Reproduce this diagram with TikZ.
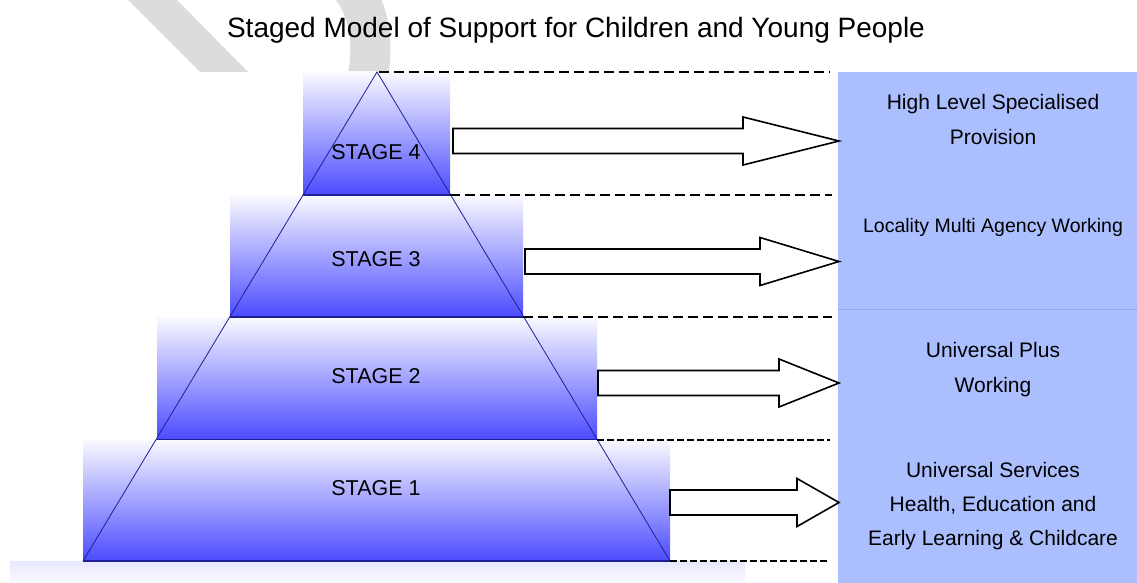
\documentclass[tikz,border=0pt]{standalone}
\usepackage{fontspec}
\setmainfont{Liberation Sans}
\usepackage{tikz}
\usetikzlibrary{calc}
\definecolor{stagetop}{HTML}{FAFAFF}
\definecolor{stageblue}{HTML}{4B4BFF}
\definecolor{edgeblue}{HTML}{1E1E96}
\definecolor{panelblue}{HTML}{ABBFFF}
\definecolor{panelline}{HTML}{8DA9F5}
\definecolor{wmgray}{HTML}{DCDCDC}
\newcommand{\stagebox}[4]{ \shade[top color=stagetop, bottom color=stageblue] ( #1 , #2 ) rectangle ( #3 , #4 );}
\newcommand{\blockarrow}[3]{ \draw[arrowline] ( #1 , #2-12.5 ) -- ( #3 , #2-12.5 ) -- ( #3 , #2-24 ) -- ( 839 , #2 ) -- ( #3 , #2+24 ) -- ( #3 , #2+12.5 ) -- ( #1 , #2+12.5 ) -- cycle;}
\newcommand{\paneltext}[4]{\node[paneltxt] ( #1 ) at ( 993 , #2 ) {\fontsize{#3}{#3}\selectfont #4};}

\begin{document}
\begin{tikzpicture}[x=1pt,y=-1pt,
    edge/.style={draw=edgeblue, line width=0.8pt},
    levelline/.style={draw=edgeblue, line width=1.2pt},
    bigdash/.style={line width=2.3pt, dash pattern=on 10pt off 5pt},
    smalldash/.style={line width=1.3pt, dash pattern=on 7pt off 3pt},
    arrowline/.style={draw=black, fill=white, line width=1.6pt, line join=miter},
    stagetxt/.style={anchor=base, inner sep=0pt, font=\fontsize{21.5}{21.5}\selectfont},
    paneltxt/.style={anchor=base, inner sep=0pt}]
        \useasboundingbox (0,0) rectangle (1137,583);
        % watermark
        \begin{scope}
            \clip (0,0) rectangle (1137,72);
            \fill[wmgray] (128,0) -- (177,0) -- (248,72) -- (200,72) -- cycle;
            \draw[wmgray, line width=40pt] (352,-12) .. controls (372,15) and (374,50) .. (366,85);
        \end{scope}
        % title
        \node[anchor=base, inner sep=0pt, font=\fontsize{28}{28}\selectfont] (title) at (576,38) {Staged Model of Support for Children and Young People};
        % panel
        \fill[panelblue] (838,72) rectangle (1137,583);
        \draw[panelline, line width=1.6pt] (838,309.5) -- (1137,309.5);
        % stages
        \stagebox{303}{72}{450}{195}
        \stagebox{230}{195}{523}{317}
        \stagebox{157}{317}{597}{439.5}
        \stagebox{83}{439.5}{670}{561}
        \shade[top color=stageblue!13, bottom color=stageblue!3] (10,561) rectangle (745,583);
        % pyramid
        \draw[edge] (83,561) -- (377,72) -- (670,561);
        \draw[levelline] (303,195) -- (450,195);
        \draw[levelline] (230,317) -- (523,317);
        \draw[levelline] (157,439.5) -- (597,439.5);
        \draw[levelline] (83,561) -- (670,561);
        % dashed levels
        \draw[bigdash] (379,72) -- (830,72);
        \draw[bigdash] (450,195) -- (832,195);
        \draw[bigdash] (523,317) -- (832,317);
        \draw[smalldash] (597,440) -- (830,440);
        \draw[smalldash] (670,561) -- (828,561);
        % stage labels
        \node[stagetxt] (stage4) at (376,159) {STAGE 4};
        \node[stagetxt] (stage3) at (376,266) {STAGE 3};
        \node[stagetxt] (stage2) at (376,383) {STAGE 2};
        \node[stagetxt] (stage1) at (376,495) {STAGE 1};
        % arrows
        \blockarrow{453}{141}{743}
        \blockarrow{525}{261.5}{760}
        \blockarrow{598}{383}{779}
        \blockarrow{670}{502.5}{797}
        % panel texts
        \paneltext{high}{110}{21}{High Level Specialised}
        \paneltext{prov}{145}{21}{Provision}
        \paneltext{local}{232}{19.5}{Locality Multi Agency Working}
        \paneltext{plus}{357}{21}{Universal Plus}
        \paneltext{work}{392}{21}{Working}
        \paneltext{univ}{477}{21}{Universal Services}
        \paneltext{health}{511}{21}{Health, Education and}
        \paneltext{early}{545}{21}{Early Learning \& Childcare}
    \end{tikzpicture}
\end{document}
